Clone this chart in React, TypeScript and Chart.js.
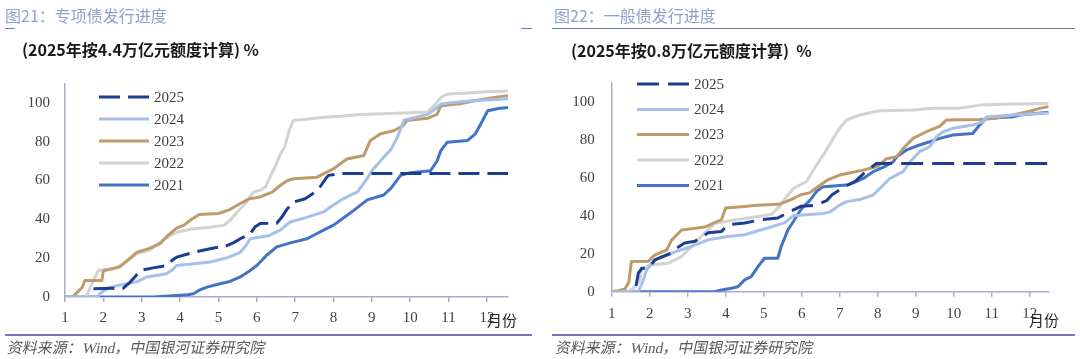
import React, { useEffect, useRef } from "react";
import { Chart, registerables } from "chart.js";

Chart.register(...registerables);

type Pt = [number, number];

// ---- legend / series meta ----
const legendYears = ["2025", "2024", "2023", "2022", "2021"];
const lineColors = ["#1D3D92", "#A6C0EA", "#BE9B69", "#D3D3D3", "#4472C4"];
const yTickValues = [0, 20, 40, 60, 80, 100];
const monthTickLabels = ["1", "2", "3", "4", "5", "6", "7", "8", "9", "10", "11", "12"];

// ---- left chart: special bonds issuance progress (x = month, y = %) ----
const special2025: Pt[] = [[1.74,4.3],[2.52,4.5],[2.6,6],[2.7,7.7],[2.85,11],[2.96,13.7],[3.3,15],[3.65,16.2],[3.8,19],[3.91,20.5],[4.35,23],[4.78,24.8],[5.22,26.5],[5.4,28],[5.57,30],[5.83,32.5],[5.95,36],[6.09,37.8],[6.52,38],[6.65,41],[6.78,45],[6.96,48.9],[7.26,50.6],[7.45,53],[7.66,57],[7.8,61],[7.87,62.6],[8.18,63.6],[12.55,63.6]];
const special2024: Pt[] = [[1,0],[1.85,0],[1.91,1.7],[2.0,3],[2.17,5],[2.61,6.8],[2.9,8],[3.13,10.3],[3.65,12],[3.8,14],[3.91,16.2],[4.3,17],[4.78,18],[5.2,20],[5.57,23],[5.7,26],[5.83,30],[6.3,31.5],[6.61,34.4],[6.87,38.6],[7.3,41],[7.74,43.8],[7.92,46.3],[8.18,49.7],[8.4,52],[8.62,54],[8.88,61],[9.0,65],[9.31,72],[9.5,76],[9.66,82],[9.78,88],[9.84,91],[10.45,94],[10.6,96],[10.8,99.3],[11.3,100.5],[11.67,101],[12.55,102]];
const special2023: Pt[] = [[1,0],[1.2,0],[1.3,2],[1.45,5],[1.52,8.5],[1.96,8.5],[2.0,13.5],[2.43,15.5],[2.7,20],[2.87,23],[3.2,25],[3.48,27.5],[3.7,32],[3.91,35.5],[4.1,37],[4.3,40],[4.5,42.5],[5.0,43],[5.3,45],[5.56,48],[5.8,50.5],[6.09,51.5],[6.4,54],[6.61,57.4],[6.8,60],[6.96,60.9],[7.57,61.7],[7.8,64],[8.0,66],[8.35,71],[8.79,72.8],[8.96,80.5],[9.23,84],[9.57,85.6],[9.8,88],[9.92,90.8],[10.45,92],[10.7,94],[10.8,98.5],[11.3,99.5],[11.67,101],[12.1,102.5],[12.55,103.6]];
const special2022: Pt[] = [[1,0],[1.55,0],[1.62,3],[1.74,8.5],[1.87,13.7],[2.26,14.5],[2.5,17],[2.87,22.2],[3.2,24],[3.48,28.2],[3.7,31],[3.91,33.3],[4.3,35],[4.78,35.9],[5.15,37],[5.33,40],[5.5,44],[5.7,48],[5.91,54],[6.1,55],[6.23,56.8],[6.35,62],[6.5,68],[6.6,73],[6.73,77.4],[6.85,86],[6.96,91],[7.3,91.5],[7.74,92.5],[8.2,93],[8.7,94],[9.5,94.5],[10.45,95.2],[10.6,98],[10.8,102.7],[10.97,104.5],[11.5,105],[12.0,105.6],[12.55,106]];
const special2021: Pt[] = [[1,0],[3.3,0],[3.9,0.8],[4.2,1.2],[4.35,1.7],[4.5,3.5],[4.7,5.1],[5.04,6.8],[5.3,8],[5.57,10.3],[5.83,13.7],[6.0,16.2],[6.26,21.5],[6.52,25.8],[6.9,28],[7.31,30],[7.74,34.4],[8.0,37],[8.18,39.5],[8.53,44.6],[8.88,50],[9.31,52.5],[9.5,56],[9.75,62.6],[10.0,64],[10.53,65],[10.7,70],[10.8,75.4],[10.97,79.7],[11.49,80.5],[11.7,84],[11.84,89],[12.02,95.9],[12.3,97],[12.55,97.6]];

// ---- right chart: general bonds issuance progress ----
const general2025: Pt[] = [[1.64,3],[1.7,9.7],[1.79,12.3],[1.96,12.3],[2.14,16.8],[2.57,20.3],[2.71,23],[2.92,25.6],[3.19,26.5],[3.54,31],[3.89,31.7],[4.06,35.3],[4.5,36.2],[4.94,37.9],[5.37,38.8],[5.72,42.5],[5.99,45],[6.39,45.5],[6.66,48],[6.8,51],[7.1,55],[7.4,58],[7.62,62],[7.8,65],[7.97,67.5],[12.5,67.5]];
const general2024: Pt[] = [[1,0],[1.7,0],[1.83,6],[1.92,11.5],[2.14,16.8],[2.31,18.5],[2.57,20.3],[3.1,23.8],[3.54,27.3],[4.06,29],[4.5,30],[4.94,32.6],[5.55,36.2],[5.78,40],[6.57,41.2],[6.74,42],[7.0,45.6],[7.18,47.4],[7.53,48.5],[7.88,50.9],[8.06,54.4],[8.32,59.6],[8.67,63.2],[8.85,68.4],[9.1,73.7],[9.37,76.3],[9.55,81.6],[9.72,84.2],[9.98,86],[10.5,87.7],[10.77,89.5],[10.86,92],[11.56,93],[12.5,94]];
const general2023: Pt[] = [[1,0],[1.17,0.5],[1.35,1.5],[1.45,5],[1.52,15.9],[1.96,16],[2.14,19.4],[2.45,22],[2.57,27],[2.84,32.5],[3.45,34],[3.89,38],[4.0,44],[4.5,44.8],[4.81,45.5],[5.4,46],[5.72,48.5],[5.96,50.9],[6.2,52],[6.48,56],[6.7,59],[7.0,61.4],[7.62,64],[8.0,66],[8.23,70],[8.5,71],[8.67,75.4],[8.93,80.7],[9.28,84.2],[9.63,87],[9.81,90.4],[10.68,90.6],[11.04,91.2],[11.56,93],[12.0,95],[12.26,96.5],[12.5,97.4]];
const general2022: Pt[] = [[1,0],[1.45,0],[1.61,2.6],[1.74,6.2],[1.79,11.5],[2.0,14],[2.49,15],[2.84,18.5],[3.1,23.8],[3.45,31],[3.71,36],[4.32,38],[5.2,40.6],[5.43,45],[5.6,50],[5.78,54.4],[6.13,58],[6.39,66.7],[6.57,72],[6.83,80.7],[6.96,85],[7.18,90.4],[7.53,93],[8.06,95.2],[8.93,95.6],[9.46,96.5],[10.16,96.5],[10.68,98.2],[11.5,98.8],[12.5,99.1]];
const general2021: Pt[] = [[1,0],[3.71,0],[3.89,0.9],[4.15,1.8],[4.32,2.6],[4.5,6.2],[4.67,7.9],[4.85,13.2],[5.02,17.6],[5.37,17.6],[5.46,23.8],[5.64,32.6],[5.81,37.9],[5.99,43.5],[6.22,48.2],[6.4,53],[6.57,55.3],[7.18,56.1],[7.44,57.9],[7.62,59.6],[7.88,63.2],[8.2,66],[8.41,68.4],[8.5,71],[8.76,74.6],[9.1,77.2],[9.37,78.9],[9.63,80.7],[9.98,82.5],[10.5,83.3],[10.68,87.7],[10.86,91.2],[11.56,92.1],[11.74,93],[12.5,94.4]];

// ---- texts ----
const leftTitle = "图21：专项债发行进度";
const rightTitle = "图22：一般债发行进度";
const leftSubtitle = "(2025年按4.4万亿元额度计算) %";
const rightSubtitle = "(2025年按0.8万亿元额度计算)  %";
const xUnit = "月份";
const sourceText = "资料来源：Wind，中国银河证券研究院";

const AXIS = "#A9A9D2";
const RULE = "#7D74BF";
const TICK_FONT = { family: "'Liberation Serif', 'DejaVu Serif', serif", size: 15 };

type Geo = {
  left: number; right: number; top: number; bottom: number; xMax: number;
  legendX: number; legendLen: number; legendY: number[]; dash: number[];
  xPad: number; yPad: number;
};

const W = 540;
const H = 359;

function buildConfig(series: Pt[][], geo: Geo): any {
  const legendPlugin = {
    id: "customLegend",
    afterDatasetsDraw(chart: any) {
      const ctx = chart.ctx as CanvasRenderingContext2D;
      ctx.save();
      chart.data.datasets.forEach((ds: any, i: number) => {
        const y = geo.legendY[i];
        ctx.beginPath();
        ctx.setLineDash(i === 0 ? geo.dash : []);
        ctx.strokeStyle = ds.borderColor;
        ctx.lineWidth = 3;
        ctx.moveTo(geo.legendX, y);
        ctx.lineTo(geo.legendX + geo.legendLen, y);
        ctx.stroke();
        ctx.setLineDash([]);
        ctx.fillStyle = "#404040";
        ctx.font = "15px 'Liberation Serif', 'DejaVu Serif', serif";
        ctx.textBaseline = "middle";
        ctx.textAlign = "left";
        ctx.fillText(ds.label, geo.legendX + geo.legendLen + 5, y + 1);
      });
      ctx.restore();
    },
  };

  return {
    type: "line",
    data: {
      datasets: series.map((s, i) => ({
        label: legendYears[i],
        data: s.map(([x, y]) => ({ x, y })),
        borderColor: lineColors[i],
        backgroundColor: lineColors[i],
        borderWidth: 3,
        borderDash: i === 0 ? geo.dash : [],
        pointRadius: 0,
        tension: 0,
        fill: false,
        borderJoinStyle: "round",
      })),
    },
    options: {
      responsive: false,
      animation: false,
      devicePixelRatio: 1,
      events: [],
      layout: { padding: { left: 0, top: geo.top, right: W - geo.right, bottom: 0 } },
      plugins: { legend: { display: false }, tooltip: { enabled: false } },
      scales: {
        x: {
          type: "linear",
          min: 1,
          max: geo.xMax,
          ticks: {
            stepSize: 1,
            includeBounds: false,
            autoSkip: false,
            maxRotation: 0,
            padding: geo.xPad,
            color: "#404040",
            font: TICK_FONT,
            callback: (v: number) => monthTickLabels[Math.round(v) - 1] ?? "",
          },
          grid: { drawOnChartArea: false, drawTicks: true, tickLength: 5, color: AXIS, lineWidth: 1.5 },
          border: { display: true, color: AXIS, width: 1.5 },
          afterFit: (s: any) => { s.height = H - geo.bottom; },
        },
        y: {
          min: 0,
          max: 110,
          afterBuildTicks: (s: any) => { s.ticks = yTickValues.map((v) => ({ value: v })); },
          ticks: { padding: geo.yPad, color: "#404040", font: TICK_FONT },
          grid: { display: false, drawTicks: false },
          border: { display: true, color: AXIS, width: 1.5 },
          afterFit: (s: any) => { s.width = geo.left; },
        },
      },
    },
    plugins: [legendPlugin],
  };
}

function LineChart({ series, geo, x }: { series: Pt[][]; geo: Geo; x: number }) {
  const ref = useRef<HTMLCanvasElement | null>(null);
  useEffect(() => {
    if (!ref.current) return;
    const chart = new Chart(ref.current, buildConfig(series, geo));
    return () => chart.destroy();
  }, []);
  return (
    <canvas
      ref={ref}
      width={W}
      height={H}
      style={{ position: "absolute", left: x, top: 0, width: W, height: H, display: "block" }}
    />
  );
}

function Text({ x, cy, size, children, style }: { x: number; cy: number; size: number; children: React.ReactNode; style?: React.CSSProperties }) {
  return (
    <div
      style={{
        position: "absolute",
        left: x,
        top: cy - size / 2,
        fontSize: size,
        lineHeight: `${size}px`,
        whiteSpace: "pre",
        fontFamily: "'Noto Sans CJK SC', 'Noto Sans', sans-serif",
        ...style,
      }}
    >
      {children}
    </div>
  );
}

function Rule({ x1, x2, y }: { x1: number; x2: number; y: number }) {
  return <div style={{ position: "absolute", left: x1, top: y, width: x2 - x1, height: 1.5, background: RULE }} />;
}

const leftGeo: Geo = {
  left: 65, right: 508, top: 83.3, bottom: 297, xMax: 12.55,
  legendX: 99, legendLen: 50, legendY: [97, 119, 141, 163, 185], dash: [21, 8],
  xPad: 7, yPad: 15,
};
const rightGeo: Geo = {
  left: 71.7, right: 508.7, top: 82.7, bottom: 291.7, xMax: 12.5,
  legendX: 97, legendLen: 52, legendY: [84, 109.5, 134.5, 160, 185.5], dash: [22, 9],
  xPad: 8, yPad: 17,
};

export default function App() {
  const titleStyle: React.CSSProperties = { color: "#8CA2CF" };
  const subStyle: React.CSSProperties = { color: "#1A1A1A", fontWeight: 700 };
  const srcStyle: React.CSSProperties = {
    color: "#595959",
    fontStyle: "normal",
    transform: "skewX(-12deg)",
    transformOrigin: "0 100%",
    fontFamily: "'Liberation Serif', 'Noto Sans CJK SC', serif",
  };
  const unitStyle: React.CSSProperties = { color: "#262626" };
  return (
    <div style={{ position: "absolute", left: 0, top: 0, width: 1080, height: 359, background: "#fff", overflow: "hidden" }}>
      <LineChart series={[special2025, special2024, special2023, special2022, special2021]} geo={leftGeo} x={0} />
      <LineChart series={[general2025, general2024, general2023, general2022, general2021]} geo={rightGeo} x={540} />

      <Text x={5} cy={14.5} size={16} style={titleStyle}>{leftTitle}</Text>
      <Text x={554} cy={14.5} size={16} style={titleStyle}>{rightTitle}</Text>

      <Rule x1={5} x2={15} y={27.5} />
      <Rule x1={521} x2={532} y={27.5} />
      <Rule x1={552} x2={1075} y={27.5} />

      <Text x={22} cy={49} size={16} style={subStyle}>{leftSubtitle}</Text>
      <Text x={571} cy={49.5} size={16} style={subStyle}>{rightSubtitle}</Text>

      <Text x={487} cy={319} size={15} style={unitStyle}>{xUnit}</Text>
      <Text x={1029} cy={319} size={15} style={unitStyle}>{xUnit}</Text>

      <Rule x1={5} x2={532} y={334} />
      <Rule x1={552} x2={1075} y={334} />

      <Text x={6} cy={348.5} size={15} style={srcStyle}>{sourceText}</Text>
      <Text x={554} cy={348.5} size={15} style={srcStyle}>{sourceText}</Text>
    </div>
  );
}
